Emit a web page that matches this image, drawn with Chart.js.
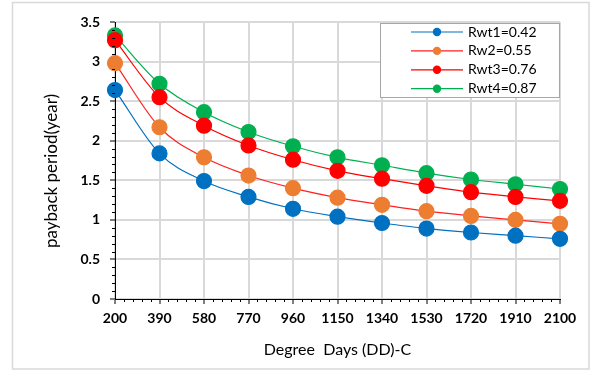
<!DOCTYPE html>
<html lang="en">
<head>
    <meta charset="UTF-8">
    <title>Payback period vs degree days</title>
    <script src="https://cdn.jsdelivr.net/npm/chart.js"></script>
    <style>
        body { margin: 0; background: #ffffff; }
        .chart-box { width: 592px; height: 371px; position: relative; }
    </style>
</head>
<body>
    <div class="chart-box">
        <canvas id="paybackChart"></canvas>
    </div>

    <script>
        // Degree days (x categories)
        const degreeDays = [200, 390, 580, 770, 960, 1150, 1340, 1530, 1720, 1910, 2100];

        // Payback period in years for each window ratio
        const rwt1 = [2.64, 1.84, 1.49, 1.29, 1.14, 1.04, 0.96, 0.89, 0.84, 0.80, 0.76];
        const rw2  = [2.98, 2.17, 1.79, 1.56, 1.40, 1.28, 1.19, 1.11, 1.05, 1.00, 0.95];
        const rwt3 = [3.27, 2.55, 2.19, 1.94, 1.76, 1.62, 1.52, 1.43, 1.35, 1.29, 1.24];
        const rwt4 = [3.33, 2.72, 2.36, 2.11, 1.93, 1.79, 1.69, 1.59, 1.51, 1.45, 1.39];

        const seriesNames = ['Rwt1=0.42', 'Rw2=0.55', 'Rwt3=0.76', 'Rwt4=0.87'];
        const yAxisTitle = 'payback period(year)';

        const FONT = 'Lato, "Open Sans", sans-serif';

        function makeSeries(label, data, pointColor, lineColor) {
            return {
                label: label,
                data: data,
                borderColor: lineColor,
                backgroundColor: pointColor,
                pointBackgroundColor: pointColor,
                pointBorderColor: pointColor,
                pointRadius: 7.5,
                pointHoverRadius: 7.5,
                borderWidth: 1.2,
                cubicInterpolationMode: 'monotone',
                clip: false,
                fill: false
            };
        }

        // Outer frame around the whole figure
        const framePlugin = {
            id: 'frame',
            beforeDraw(chart) {
                const ctx = chart.ctx;
                ctx.save();
                ctx.fillStyle = '#ffffff';
                ctx.fillRect(0, 0, chart.width, chart.height);
                ctx.strokeStyle = '#d9d9d9';
                ctx.lineWidth = 1.5;
                ctx.strokeRect(12.5, 2.5, 576.5, 366.5);
                ctx.restore();
            }
        };

        // Small minor tick marks on both axes, plus the rotated y title
        const minorTicksPlugin = {
            id: 'minorTicks',
            afterDraw(chart) {
                const ctx = chart.ctx;
                const xs = chart.scales.x;
                const ys = chart.scales.y;
                const area = chart.chartArea;
                ctx.save();
                ctx.strokeStyle = '#000000';
                ctx.lineWidth = 1;
                ctx.beginPath();
                for (let v = 0; v <= 3.5001; v += 0.1) {
                    const r = Math.round(v * 10);
                    if (r % 5 === 0) continue;
                    const y = Math.round(ys.getPixelForValue(v)) + 0.5;
                    ctx.moveTo(area.left - 3, y);
                    ctx.lineTo(area.left, y);
                }
                for (let i = 0; i < degreeDays.length - 1; i++) {
                    const a = xs.getPixelForTick(i);
                    const b = xs.getPixelForTick(i + 1);
                    for (let k = 1; k < 5; k++) {
                        const x = Math.round(a + (b - a) * k / 5) + 0.5;
                        ctx.moveTo(x, area.bottom);
                        ctx.lineTo(x, area.bottom + 3);
                    }
                }
                ctx.stroke();

                ctx.translate(52, 171);
                ctx.rotate(-Math.PI / 2);
                ctx.fillStyle = '#000000';
                ctx.font = '17px ' + FONT;
                ctx.textAlign = 'center';
                ctx.textBaseline = 'middle';
                ctx.fillText(yAxisTitle, 0, 0);
                ctx.restore();
            }
        };

        // Boxed legend inside the plot, upper right
        const boxLegendPlugin = {
            id: 'boxLegend',
            afterDraw(chart) {
                const ctx = chart.ctx;
                const box = { x: 380.5, y: 23.5, w: 179, h: 74 };
                ctx.save();
                ctx.fillStyle = '#ffffff';
                ctx.fillRect(box.x, box.y, box.w, box.h);
                ctx.strokeStyle = '#a6a6a6';
                ctx.lineWidth = 1;
                ctx.strokeRect(box.x, box.y, box.w, box.h);
                chart.data.datasets.forEach((ds, i) => {
                    const y = 32 + i * 18.9;
                    ctx.strokeStyle = ds.borderColor;
                    ctx.lineWidth = 1.2;
                    ctx.beginPath();
                    ctx.moveTo(411, y);
                    ctx.lineTo(463, y);
                    ctx.stroke();
                    ctx.fillStyle = ds.pointBackgroundColor;
                    ctx.beginPath();
                    ctx.arc(437, y, 4.2, 0, Math.PI * 2);
                    ctx.fill();
                    ctx.fillStyle = '#000000';
                    ctx.font = '14px ' + FONT;
                    ctx.textBaseline = 'middle';
                    ctx.textAlign = 'left';
                    ctx.fillText(ds.label, 468, y);
                });
                ctx.restore();
            }
        };

        function initializePaybackChart() {
            const ctx = document.getElementById('paybackChart').getContext('2d');
            new Chart(ctx, {
                type: 'line',
                data: {
                    labels: degreeDays,
                    datasets: [
                        makeSeries(seriesNames[0], rwt1, '#0070c0', '#0070c0'),
                        makeSeries(seriesNames[1], rw2, '#ed7d31', '#ff2020'),
                        makeSeries(seriesNames[2], rwt3, '#ff0000', '#ff0000'),
                        makeSeries(seriesNames[3], rwt4, '#00b050', '#00b050')
                    ]
                },
                options: {
                    responsive: true,
                    maintainAspectRatio: false,
                    animation: false,
                    layout: { padding: { top: 22, right: 32, left: 0, bottom: 0 } },
                    plugins: {
                        legend: { display: false },
                        tooltip: { enabled: false }
                    },
                    scales: {
                        x: {
                            type: 'category',
                            offset: false,
                            afterFit(scale) { scale.height = 72; },
                            grid: {
                                color: '#d9d9d9',
                                lineWidth: 2,
                                tickColor: '#000000',
                                tickLength: 5,
                                tickWidth: 1
                            },
                            border: { color: '#000000', width: 1 },
                            ticks: {
                                color: '#000000',
                                padding: 6,
                                maxRotation: 0,
                                font: { family: FONT, size: 14, weight: 'bold' }
                            },
                            title: {
                                display: true,
                                text: 'Degree  Days (DD)-C',
                                color: '#000000',
                                padding: { top: 0, bottom: 12 },
                                font: { family: FONT, size: 16 }
                            }
                        },
                        y: {
                            min: 0,
                            max: 3.5,
                            afterFit(scale) { scale.width = 115; },
                            grid: {
                                color: '#d9d9d9',
                                lineWidth: 2,
                                tickColor: '#000000',
                                tickLength: 5,
                                tickWidth: 1
                            },
                            border: { color: '#000000', width: 1 },
                            ticks: {
                                stepSize: 0.5,
                                color: '#000000',
                                padding: 10,
                                callback: (v) => String(v),
                                font: { family: FONT, size: 14, weight: 'bold' }
                            }
                        }
                    }
                },
                plugins: [framePlugin, minorTicksPlugin, boxLegendPlugin]
            });
        }

        initializePaybackChart();
    </script>
</body>
</html>
